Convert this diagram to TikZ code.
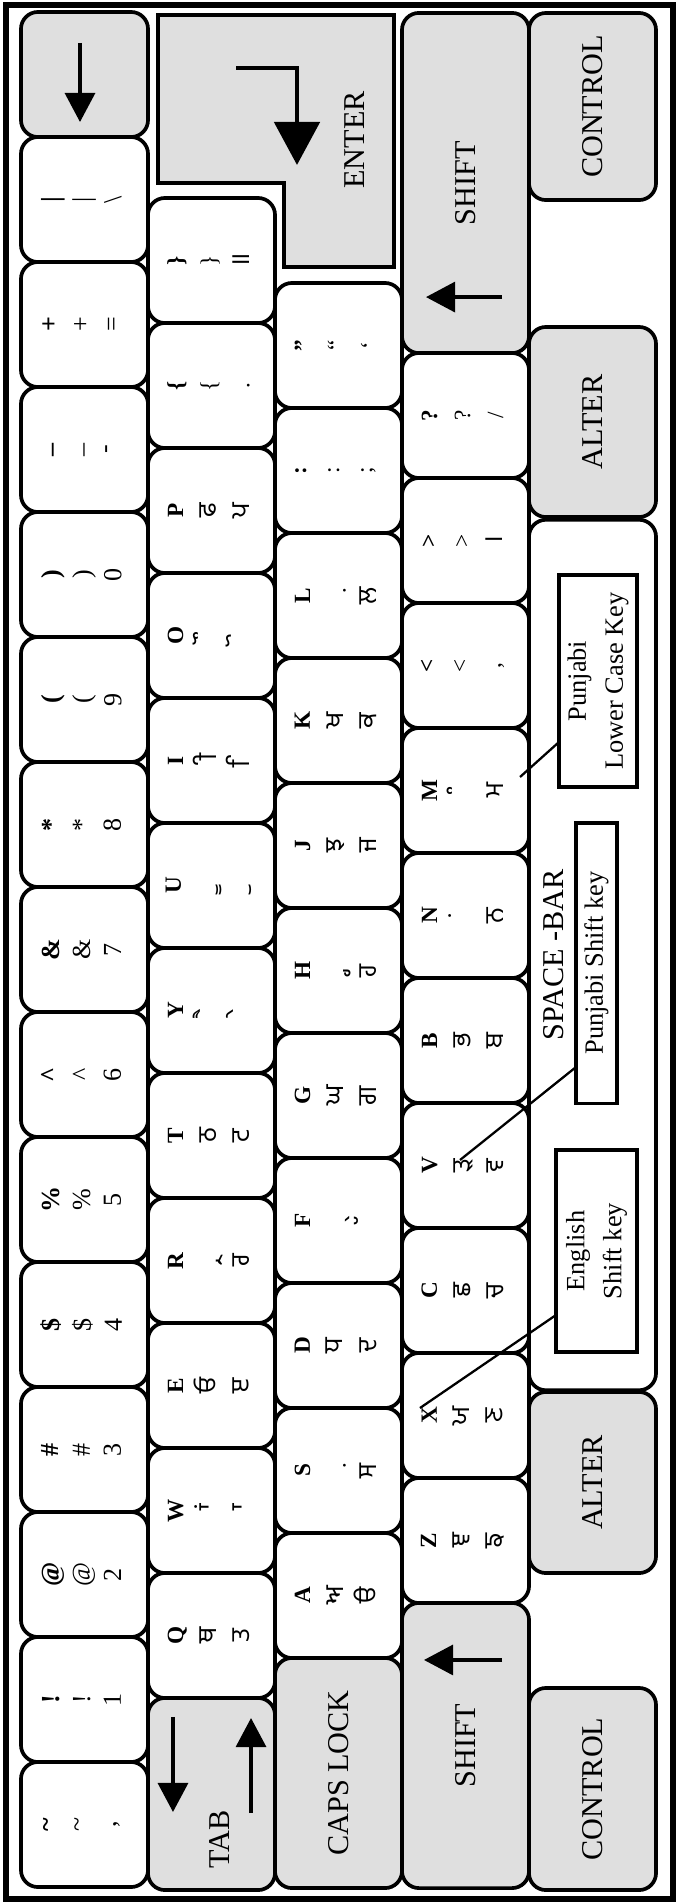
\documentclass[tikz,border=0pt]{standalone}
\usepackage{fontspec}
\setmainfont{Liberation Serif}
\newfontfamily\gurfont[Script=Gurmukhi]{Hind Jalandhar}
\usetikzlibrary{arrows.meta}
\newcommand\kbpnj{\gurfont\fontsize{7.4}{9.4}\selectfont}
\newcommand\kbeng{\rmfamily\fontsize{6.6}{9.4}\selectfont}
\newcommand\mk[1]{\char"00A0 #1}

\begin{document}
\begin{tikzpicture}[
    x=0.01cm, y=-0.01cm,
    key/.style={draw, rotate=90, rounded corners=0.17cm, line width=1.05pt, fill=white, minimum width=1.25cm, minimum height=1.27cm, inner sep=0pt},
    modkey/.style={key, fill=gray!25, font=\fontsize{8.6}{10}\selectfont},
    lab/.style={rotate=90, align=center, inner sep=0pt, font=\fontsize{6.6}{9.4}\selectfont},
    numlab/.style={lab, font=\fontsize{7.4}{8.8}\selectfont},
    note/.style={draw, rotate=90, line width=0.9pt, fill=white, align=center, inner sep=1pt, font=\fontsize{7.5}{10.5}\selectfont},
    bigtxt/.style={rotate=90, inner sep=0pt, font=\fontsize{8.6}{10}\selectfont},
    keyarrow/.style={line width=0.9pt, -{Triangle[length=0.29cm, width=0.3cm]}},
    pointer/.style={line width=0.65pt}
]
\useasboundingbox (0,0) rectangle (679,1902);
\draw[line width=1.6pt] (6,5) rectangle (673,1899);

% Number row
\node[modkey] (kbksp) at (84.5,74.5) {};
\draw[keyarrow] ([xshift=-0.045cm,yshift=0.315cm]kbksp.center) -- ++(0,79);
\foreach \nm/\ta/\tb/\tc [count=\i] in {bar/|/|/\textbackslash, plus/+/+/=, minus/\_/\_/-, 0/)/)/0, 9/(/(/9, 8/*/*/8, 7/\&/\&/7, 6/\^{}/\^{}/6, 5/\%/\%/5, 4/\$/\$/4, 3/\#/\#/3, 2/@/@/2, 1/!/!/1, tilde/\textasciitilde/\textasciitilde/{,}} {
    \node[key] (k\nm) at (84.5, {74.5+125*\i}) {};
    \node[numlab] at ([xshift=-0.03cm]k\nm.center) {\textbf{\ta}\\\tb\\\tc};
}

% Q row
\foreach \nm/\ta/\tb/\tc [count=\i] in {rb/\}/{\kbeng\}}/॥, lb/\{/{\kbeng\{}/{\kbeng.}, P/P/ਫ/ਪ, O/O/\mk{ੌ}/\mk{ੋ}, I/I/\mk{ੀ}/\mk{ਿ}, U/U/\mk{ੂ}/\mk{ੁ}, Y/Y/\mk{ੈ}/\mk{ੇ}, T/T/ਠ/ਟ, R/R/\mk{੍ਰ}/ਰ, E/E/ਓ/ੲ, W/W/\mk{ਾਂ}/\mk{ਾ}, Q/Q/ਥ/ਤ} {
    \node[key] (k\nm) at (211.5, {135.5+125*\i}) {};
    \node[lab] at ([xshift=-0.03cm]k\nm.center) {\textbf{\ta}\\{\kbpnj\tb}\\{\kbpnj\tc}};
}
\node[modkey, minimum width=1.92cm] (ktab) at (211.5,1794) {};
\node[bigtxt] (tab) at ([xshift=0.085cm,yshift=-0.45cm]ktab.center) {TAB};
\draw[keyarrow] ([xshift=-0.385cm,yshift=0.77cm]ktab.center) -- ++(0,95);
\draw[keyarrow] ([xshift=0.395cm,yshift=-0.19cm]ktab.center) -- ++(0,-95);

% Enter
\draw[line width=0.9pt, fill=gray!25] (158,15) -- (394,15) -- (394,267) -- (284,267) -- (284,183) -- (158,183) -- cycle;
\node[bigtxt] (enter) at (355,140) {ENTER};
\draw[line width=1.4pt, -{Triangle[length=0.43cm, width=0.45cm]}] (236,68) -| (297,165);

% A row
\foreach \nm/\ta/\tb/\tc [count=\i] in {quote/"/{\kbeng``}/{\kbeng`}, colon/:/{\kbeng:}/{\kbeng;}, L/L/\mk{਼}/ਲ, K/K/ਖ/ਕ, J/J/ਝ/ਜ, H/H/\mk{੍ਹ}/ਹ, G/G/ਘ/ਗ, F/F/\mk{੍}/\mk{ੱ}, D/D/ਧ/ਦ, S/S/\mk{਼}/ਸ, A/A/ਅ/ੳ} {
    \node[key] (k\nm) at (338.5, {220.5+125*\i}) {};
    \node[lab] at ([xshift=-0.03cm]k\nm.center) {\textbf{\ta}\\{\kbpnj\tb}\\{\kbpnj\tc}};
}
\node[modkey, minimum width=2.30cm] (kcaps) at (338.5,1773) {CAPS LOCK};

% Z row
\node[modkey, minimum width=3.40cm] (krshift) at (465.5,183) {SHIFT};
\draw[keyarrow] ([xshift=0.365cm,yshift=-1.14cm]krshift.center) -- ++(-76,0);
\foreach \nm/\ta/\tb/\tc [count=\i] in {qm/?/{\kbeng?}/{\kbeng/}, gt/>/{\kbeng>}/।, lt/</{\kbeng<}/{\kbeng,}, M/M/\mk{ੰ}/ਮ, N/N/\mk{ਂ}/ਨ, B/B/ਭ/ਬ, V/V/ੜ/ਵ, C/C/ਛ/ਚ, X/X/ਯ/ਣ, Z/Z/ਞ/ਙ} {
    \node[key] (k\nm) at (465.5, {290.5+125*\i}) {};
    \node[lab] at ([xshift=-0.03cm]k\nm.center) {\textbf{\ta}\\{\kbpnj\tb}\\{\kbpnj\tc}};
}
\node[modkey, minimum width=2.85cm] (klshift) at (465.5,1745.5) {SHIFT};
\draw[keyarrow] ([xshift=0.365cm,yshift=0.855cm]klshift.center) -- ++(-78,0);

% Bottom row
\node[modkey, minimum width=1.87cm] (kctrlr) at (592.5,106.5) {CONTROL};
\node[modkey, minimum width=1.90cm] (kaltr) at (592.5,422) {ALTER};
\node[key, minimum width=8.70cm] (kspace) at (592.5,955) {};
\node[modkey, minimum width=1.81cm] (kaltl) at (592.5,1482.5) {ALTER};
\node[modkey, minimum width=2.02cm] (kctrll) at (592.5,1789) {CONTROL};
\node[bigtxt] (spacebar) at (554,955) {SPACE -BAR};

% Notes
\node[note, minimum width=2.12cm, minimum height=0.78cm] (plc) at (598,681) {Punjabi\\Lower Case Key};
\node[note, minimum width=2.80cm, minimum height=0.41cm] (psk) at (596.5,963) {Punjabi Shift key};
\node[note, minimum width=2.02cm, minimum height=0.81cm] (esk) at (596.5,1251) {English\\Shift key};

\coordinate (mM) at ([xshift=0.545cm,yshift=0.135cm]kM.center);
\coordinate (mV) at ([xshift=-0.055cm,yshift=0.055cm]kV.center);
\coordinate (mX) at ([xshift=-0.455cm,yshift=0.075cm]kX.center);
\draw[pointer] ([xshift=-0.39cm,yshift=-0.61cm]plc.center) -- (mM);
\draw[pointer] ([xshift=-0.205cm,yshift=-1.04cm]psk.center) -- (mV);
\draw[pointer] ([xshift=-0.405cm,yshift=-0.64cm]esk.center) -- (mX);
\end{tikzpicture}
\end{document}
